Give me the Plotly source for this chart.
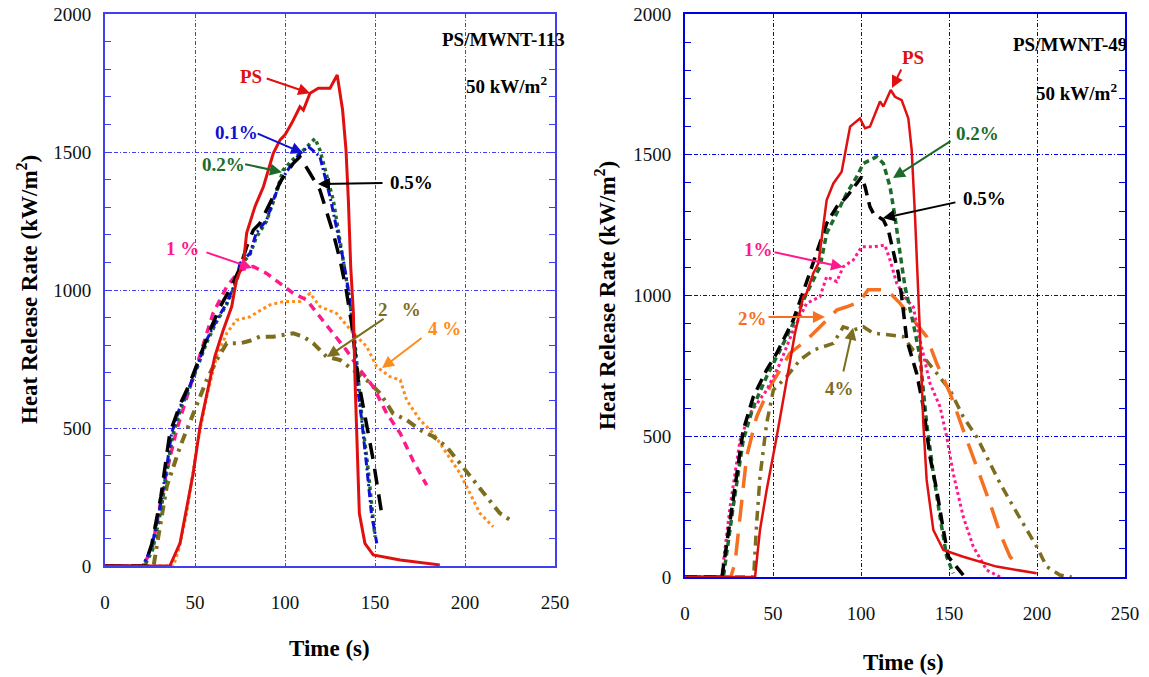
import plotly.graph_objects as go

W, H = 1149, 677

# ---------------- Left panel: PS/MWNT-113 ----------------
L_PS_t = [0, 36, 41.7, 49, 52.8, 61, 65.7, 70.4, 73, 76.9, 78.7, 83.3, 88, 89.8, 93.5, 97.2, 100, 103.7, 108.3, 110.2, 113.9, 118.5, 125, 129, 132, 133.9, 135.2, 136.5, 138, 138.9, 140.2, 141.3, 144.4, 149, 164, 178, 186]
L_PS_v = [0, 0, 83, 336, 505, 759, 855, 940, 1036, 1097, 1206, 1302, 1374, 1411, 1495, 1543, 1562, 1604, 1664, 1652, 1713, 1731, 1731, 1779, 1652, 1507, 1326, 1085, 915, 674, 432, 191, 82, 40, 22, 12, 4]

L_01_t = [0, 21, 26, 30.6, 34.3, 37, 41.7, 47, 51, 56.5, 62, 67.6, 73, 75, 80.6, 84, 89.8, 93.5, 98, 102.8, 108.3, 113, 115.3, 119.4, 125, 128.7, 132.4, 135.2, 138, 139.8, 142.6, 145.4, 148, 151]
L_01_v = [0, 0, 70, 215, 360, 481, 577, 650, 722, 819, 891, 952, 1036, 1097, 1133, 1206, 1254, 1326, 1399, 1447, 1495, 1519, 1507, 1483, 1338, 1229, 1109, 1000, 843, 674, 529, 360, 191, 82]

L_02_t = [0, 22, 26.5, 31, 34.5, 37.5, 42, 47, 51, 56.5, 62, 67.6, 73, 75.5, 80.6, 84, 89.8, 93.5, 99, 104, 110, 114, 116.7, 119.4, 126.8, 130, 133, 136, 138.5, 140.5, 143, 146, 148.5, 150]
L_02_v = [0, 0, 60, 200, 345, 470, 570, 645, 715, 810, 885, 948, 1030, 1090, 1130, 1190, 1250, 1320, 1435, 1470, 1505, 1530, 1549, 1507, 1326, 1200, 1080, 960, 830, 680, 520, 360, 200, 106]

L_05_t = [0, 22, 26, 31, 36, 42, 47, 52.8, 58, 64, 70, 75, 78.7, 82.4, 86, 90.7, 98, 104.6, 108.3, 113.9, 119.4, 126.8, 130.6, 134, 137, 140.7, 145.4, 149, 153.7]
L_05_v = [0, 0, 80, 250, 481, 590, 660, 759, 850, 940, 1010, 1080, 1157, 1217, 1241, 1302, 1399, 1459, 1483, 1423, 1362, 1206, 1109, 1000, 879, 674, 517, 384, 191]

L_1_t = [0, 21, 26, 30, 34, 39.8, 45.4, 52.8, 60, 67.6, 75, 82.4, 89.8, 97.2, 104.6, 112, 119.4, 126.8, 134, 141.7, 149, 156.5, 164, 171, 178.7]
L_1_v = [0, 0, 60, 190, 336, 493, 613, 771, 915, 1012, 1072, 1085, 1060, 1024, 988, 964, 903, 843, 783, 710, 650, 553, 481, 384, 293]

L_2_t = [0, 27, 28.7, 34.3, 41.7, 49, 56.5, 62, 67.6, 75, 80, 86, 93.5, 99, 104.6, 110.2, 115.7, 123, 130.6, 138, 145.4, 152.8, 160, 167.6, 175, 182.4, 189.8, 197.2, 204.6, 212, 219.4, 225]
L_2_v = [0, 0, 70, 288, 432, 553, 674, 746, 807, 807, 815, 831, 831, 837, 843, 831, 807, 759, 746, 710, 674, 626, 553, 529, 493, 469, 432, 372, 312, 251, 191, 167]

L_4_t = [0, 38, 41, 45.4, 51, 56.5, 62, 67.6, 73, 80.6, 86, 91.7, 99, 108.3, 113.9, 119.4, 128.7, 138, 145.4, 150.9, 158.3, 164, 167.6, 175, 182.4, 189.8, 197.2, 202.8, 208.3, 215.7]
L_4_v = [0, 0, 60, 191, 432, 613, 759, 843, 891, 903, 925, 946, 958, 958, 988, 940, 915, 843, 795, 722, 686, 674, 601, 529, 481, 408, 336, 263, 191, 142]

# ---------------- Right panel: PS/MWNT-49 ----------------
R_PS_t = [0, 39.8, 42.6, 46.4, 52.1, 57.8, 62.5, 67.2, 69.1, 72.9, 75.8, 80.5, 84.3, 89, 90.9, 93.8, 99.4, 102.3, 105.1, 110.8, 112.7, 116.9, 119.3, 123.1, 126.9, 128.8, 130.7, 132.6, 133.5, 135.4, 137.3, 141.1, 146.8, 158.1, 177, 199.8]
R_PS_v = [0, 0, 167, 309, 498, 700, 866, 996, 1008, 1079, 1114, 1339, 1398, 1440, 1505, 1600, 1629, 1594, 1600, 1689, 1671, 1730, 1706, 1694, 1629, 1517, 1280, 1020, 866, 546, 345, 167, 96, 72, 37, 13]

R_02_t = [0, 21.8, 27.4, 33.1, 38.8, 46.4, 54, 61.5, 69.1, 76.7, 80.5, 86.2, 91.9, 97.6, 101.3, 108.9, 112.7, 116.5, 119.3, 122.2, 125, 129.7, 133.5, 137.3, 141.1, 144.9, 148.7, 152.4]
R_02_v = [0, 0, 250, 487, 605, 712, 806, 901, 1008, 1102, 1221, 1292, 1363, 1422, 1469, 1493, 1469, 1386, 1280, 1150, 1031, 901, 783, 546, 368, 214, 72, 13]

R_05_t = [0, 21, 27, 33.1, 38.8, 46.4, 52.1, 61.5, 67, 72.9, 80.5, 86.2, 91.9, 97.6, 100.4, 102.3, 105.1, 107, 112.7, 115.5, 118.4, 121.2, 123.1, 126, 131.6, 135.4, 139.2, 143, 146.8, 149.6, 158.1]
R_05_v = [0, 0, 260, 522, 640, 736, 795, 913, 1010, 1114, 1256, 1315, 1351, 1398, 1422, 1386, 1315, 1292, 1268, 1233, 1150, 1079, 996, 842, 724, 605, 427, 309, 167, 72, 7]

R_1_t = [0, 20.8, 25.6, 31.3, 36.9, 46.4, 54, 61.5, 69.1, 76.7, 80.5, 86.2, 89.9, 95.6, 100.4, 107, 113.6, 116.5, 120.3, 126, 129.7, 133.5, 139.2, 144.9, 148.7, 152.4, 158.1, 163.8, 171.4, 179]
R_1_v = [0, 0, 250, 487, 581, 664, 759, 877, 972, 996, 1067, 1049, 1102, 1126, 1173, 1173, 1179, 1126, 1043, 984, 960, 842, 688, 605, 498, 368, 214, 108, 25, 0]

R_2_t = [0, 26, 28.4, 31.3, 35, 40.7, 48.3, 54, 59.7, 69.1, 76.7, 86.2, 91.9, 99.4, 104, 110.8, 114.6, 122.2, 129.7, 137.3, 143, 150.6, 158.1, 165.7, 173.3, 179, 184.7, 190.3]
R_2_v = [0, 0, 49, 214, 427, 569, 676, 735, 795, 842, 889, 948, 960, 978, 1020, 1020, 1020, 972, 913, 854, 759, 653, 522, 392, 262, 155, 72, 31]

R_4_t = [0, 39, 40.7, 42.6, 46.4, 50.2, 57.8, 65.3, 72.9, 84.3, 89.9, 95.6, 101.3, 107, 116.5, 124, 129.7, 135.4, 143, 150.6, 158.1, 165.7, 173.3, 179, 186.5, 194.1, 199.8, 205.5, 213, 219.7]
R_4_v = [0, 0, 190, 356, 546, 664, 712, 771, 806, 830, 889, 877, 889, 866, 860, 854, 806, 783, 724, 664, 569, 498, 404, 333, 250, 167, 108, 37, 7, 0]

x_ticks = [0, 50, 100, 150, 200, 250]
y_ticks = [0, 500, 1000, 1500, 2000]

RED = "#e01010"
BLUE = "#1010d0"
GREEN = "#1d6b2a"
BLACK = "#000000"
MAG = "#ff1a8c"
OLIVE = "#7d6d1e"
ORANGE = "#ff8c1a"
ORANGE2 = "#f57020"

FONT = "Liberation Serif"

fig = go.Figure()

def add(t, v, color, dash, width, xa, ya):
    fig.add_trace(go.Scatter(x=t, y=v, mode="lines", xaxis=xa, yaxis=ya,
                             line=dict(color=color, dash=dash, width=width),
                             showlegend=False, hoverinfo="skip"))

# left
add(L_4_t, L_4_v, ORANGE, "dot", 3, "x", "y")
add(L_2_t, L_2_v, OLIVE, "10px,6px,3px,6px", 4, "x", "y")
add(L_1_t, L_1_v, MAG, "8px,6px", 3.5, "x", "y")
add(L_02_t, L_02_v, GREEN, "dot", 3.5, "x", "y")
add(L_01_t, L_01_v, BLUE, "8px,3px,2px,3px", 3, "x", "y")
add(L_05_t, L_05_v, BLACK, "16px,10px", 3.5, "x", "y")
add(L_PS_t, L_PS_v, RED, "solid", 3, "x", "y")

# right
add(R_4_t, R_4_v, OLIVE, "10px,6px,3px,6px", 3.5, "x2", "y2")
add(R_2_t, R_2_v, ORANGE2, "22px,12px", 3.5, "x2", "y2")
add(R_1_t, R_1_v, MAG, "dot", 3, "x2", "y2")
add(R_02_t, R_02_v, GREEN, "6px,4px", 3.5, "x2", "y2")
add(R_05_t, R_05_v, BLACK, "12px,7px", 3.5, "x2", "y2")
add(R_PS_t, R_PS_v, RED, "solid", 2.5, "x2", "y2")

def px(xp):
    return xp / W

def py(yp):
    return 1 - yp / H

LINE_L = "#4040f0"
LINE_R = "#0000e0"
GRID_DASH = "4px,2px,1px,2px"

def xaxis(dom, lc, anchor):
    return dict(domain=dom, range=[0, 250], tickvals=x_ticks, showline=True, linecolor=lc,
                linewidth=2, mirror=True, showgrid=True, gridcolor=lc, griddash=GRID_DASH,
                gridwidth=1, zeroline=False, ticks="", ticklabelstandoff=18, automargin=False,
                tickfont=dict(family=FONT, size=19, color="#111"), anchor=anchor)

def yaxis(dom, lc, anchor):
    return dict(domain=dom, range=[0, 2000], tickvals=y_ticks, showline=True, linecolor=lc,
                linewidth=2, mirror="ticks", showgrid=True, gridcolor=lc, griddash=GRID_DASH,
                gridwidth=1, zeroline=False, ticks="inside", ticklen=6, tickcolor=lc,
                minor=dict(ticks="inside", dtick=100, ticklen=6, tickcolor=lc, showgrid=False),
                ticklabelstandoff=8, automargin=False,
                tickfont=dict(family=FONT, size=19, color="#111"), anchor=anchor)

fig.update_layout(
    width=W, height=H, margin=dict(l=0, r=0, t=0, b=0, autoexpand=False),
    paper_bgcolor="white", plot_bgcolor="white",
    xaxis=xaxis([px(105), px(555)], LINE_L, "y"),
    yaxis=yaxis([py(566), py(14)], LINE_L, "x"),
    xaxis2=xaxis([px(685), px(1125)], LINE_R, "y2"),
    yaxis2=yaxis([py(577), py(14)], LINE_R, "x2"),
)

ann = []
LS = 19

def label(text, x, y, color, xr, yr, size=LS):
    ann.append(dict(text=text, x=x, y=y, xref=xr, yref=yr, showarrow=False,
                    xanchor="center", yanchor="middle",
                    font=dict(family=FONT, size=size, color=color)))

def arrow(x, y, ax, ay, color, xr, yr):
    ann.append(dict(text="", x=x, y=y, ax=ax, ay=ay, xref=xr, yref=yr, axref=xr, ayref=yr,
                    showarrow=True, arrowhead=2, arrowsize=1.2, arrowwidth=2, arrowcolor=color))

# left annotations
label("<b>PS</b>", 81, 1772, RED, "x", "y")
arrow(114, 1713, 89, 1768, RED, "x", "y")
label("<b>0.1%</b>", 73.3, 1569, BLUE, "x", "y")
arrow(110, 1496, 84, 1569, BLUE, "x", "y")
label("<b>0.2%</b>", 65.6, 1453, GREEN, "x", "y")
arrow(98.3, 1427, 77, 1457, GREEN, "x", "y")
label("<b>0.5%</b>", 170.5, 1388, BLACK, "x", "y")
arrow(118.3, 1384, 155, 1388, BLACK, "x", "y")
label("<b>1 %</b>", 43.3, 1152, MAG, "x", "y")
arrow(81.7, 1080, 55.5, 1138, MAG, "x", "y")
label("<b>2   %</b>", 163.5, 931, OLIVE, "x", "y")
arrow(123.3, 757, 155.6, 899, OLIVE, "x", "y")
label("<b>4 %</b>", 188.5, 859, ORANGE, "x", "y")
arrow(153.9, 717, 176.7, 830, ORANGE, "x", "y")
label("<b>PS/MWNT-113</b>", 221.5, 1909, BLACK, "x", "y")
label("<b>50 kW/m<sup>2</sup></b>", 222.8, 1743, BLACK, "x", "y")

# right annotations
label("<b>PS</b>", 129.5, 1844, RED, "x2", "y2")
arrow(117.6, 1737, 123.3, 1808, RED, "x2", "y2")
label("<b>0.2%</b>", 166, 1577, GREEN, "x2", "y2")
arrow(118.2, 1417, 151.7, 1552, GREEN, "x2", "y2")
label("<b>0.5%</b>", 170, 1346, BLACK, "x2", "y2")
arrow(112.5, 1275, 154.5, 1332, BLACK, "x2", "y2")
label("<b>1%</b>", 41.5, 1165, MAG, "x2", "y2")
arrow(89.8, 1101, 50, 1155, MAG, "x2", "y2")
label("<b>2%</b>", 38.6, 920, ORANGE2, "x2", "y2")
arrow(79.5, 924, 46.6, 924, ORANGE2, "x2", "y2")
label("<b>4%</b>", 87.5, 668, OLIVE, "x2", "y2")
arrow(95.5, 885, 89.8, 725, OLIVE, "x2", "y2")
label("<b>PS/MWNT-49</b>", 218.8, 1890, BLACK, "x2", "y2")
label("<b>50 kW/m<sup>2</sup></b>", 222.7, 1723, BLACK, "x2", "y2")

# axis titles
ytitle = "<b>Heat Release Rate (kW/m<sup>2</sup>)</b>"
TS = 23
def title(text, xp, yp, angle=0):
    ann.append(dict(text=text, x=px(xp), y=py(yp), xref="paper", yref="paper", showarrow=False,
                    xanchor="center", yanchor="middle", textangle=angle,
                    font=dict(family=FONT, size=TS, color="black")))

title(ytitle, 27, 290, -90)
title(ytitle, 606, 296, -90)
title("<b>Time (s)</b>", 329, 648)
title("<b>Time (s)</b>", 903, 662)

fig.update_layout(annotations=ann)
fig.write_html("out.html")
